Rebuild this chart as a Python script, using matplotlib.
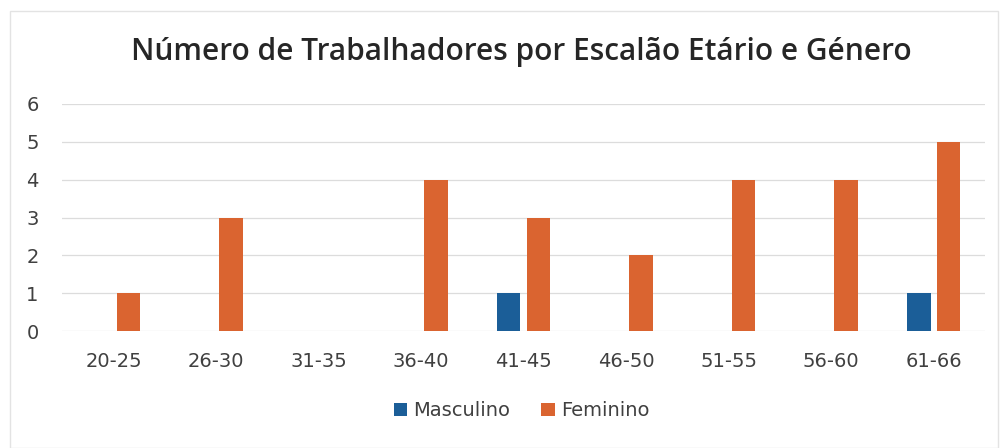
import matplotlib
matplotlib.use("Agg")
import matplotlib.pyplot as plt
import numpy as np
from matplotlib.patches import Rectangle

categories = ["20-25", "26-30", "31-35", "36-40", "41-45", "46-50", "51-55", "56-60", "61-66"]
masculino = [0, 0, 0, 0, 1, 0, 0, 0, 1]
feminino = [1, 3, 0, 4, 3, 2, 4, 4, 5]
yticks = [0, 1, 2, 3, 4, 5, 6]

blue = "#1B5E98"
orange = "#DA6430"

fig = plt.figure(figsize=(10.03, 4.48), dpi=100)
ax = fig.add_axes([0.062, 0.261, 0.92, 0.507])

x = np.arange(len(categories))
w = 0.23
off = 0.145
ax.bar(x - off, masculino, width=w, color=blue, label="Masculino", zorder=3)
ax.bar(x + off, feminino, width=w, color=orange, label="Feminino", zorder=3)

ax.set_xlim(-0.5, len(categories) - 0.5)
ax.set_ylim(0, 6)
ax.set_yticks(yticks)
ax.set_yticklabels([str(t) for t in yticks], fontsize=14, color="#404040")
ax.set_xticks(x)
ax.set_xticklabels(categories, fontsize=14, color="#404040")
ax.tick_params(axis="both", length=0)
ax.tick_params(axis="x", pad=15)
ax.tick_params(axis="y", pad=17)
ax.grid(axis="y", color="#dcdcdc", linewidth=0.9, zorder=0)
for s in ax.spines.values():
    s.set_visible(False)

fig.text(0.52, 0.885, "Número de Trabalhadores por Escalão Etário e Género",
         ha="center", va="center", fontsize=21.5, fontweight="semibold",
         family="Open Sans", color="#262626")

leg = fig.legend(loc="center", bbox_to_anchor=(0.52, 0.083), ncol=2, frameon=False,
                 fontsize=14, handlelength=0.7, handleheight=0.7, handletextpad=0.3,
                 columnspacing=1.6)
for t in leg.get_texts():
    t.set_color("#404040")

fig.patches.append(Rectangle((0.01, 0.0), 0.985, 0.975, transform=fig.transFigure,
                             fill=False, edgecolor="#e3e3e3", linewidth=1))

fig.savefig("out.png", dpi=100, facecolor="white")
